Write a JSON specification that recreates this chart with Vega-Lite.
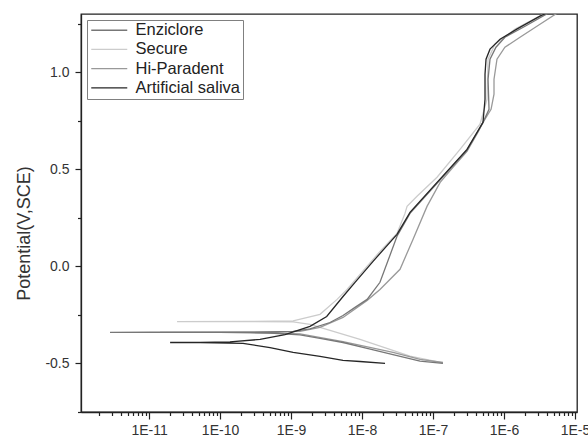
{
  "$schema": "https://vega.github.io/schema/vega-lite/v6.json",
  "width": 496,
  "height": 398,
  "autosize": "none",
  "padding": {"left": 81, "top": 14, "right": 11, "bottom": 25},
  "background": "white",
  "config": {
    "view": {"stroke": "#222", "strokeWidth": 1.3},
    "axis": {
      "grid": false,
      "domainColor": "#222",
      "domainWidth": 1.3,
      "tickColor": "#222",
      "tickWidth": 1.2,
      "labelFont": "Liberation Sans",
      "labelFontSize": 14,
      "labelColor": "#333",
      "titleFont": "Liberation Sans",
      "titleFontWeight": "normal",
      "titleColor": "#333"
    },
    "legend": {
      "labelFont": "Liberation Sans",
      "labelFontSize": 16.5,
      "labelColor": "#222"
    }
  },
  "data": {
    "values": [
      {"s": "Secure", "i": 1, "x": 1.38e-7, "y": -0.497},
      {"s": "Secure", "i": 2, "x": 4.74e-8, "y": -0.462},
      {"s": "Secure", "i": 3, "x": 9.37e-9, "y": -0.376},
      {"s": "Secure", "i": 4, "x": 3.54e-9, "y": -0.330},
      {"s": "Secure", "i": 5, "x": 1.85e-9, "y": -0.299},
      {"s": "Secure", "i": 6, "x": 1.07e-9, "y": -0.286},
      {"s": "Secure", "i": 7, "x": 2.65e-10, "y": -0.284},
      {"s": "Secure", "i": 8, "x": 2.48e-11, "y": -0.284},
      {"s": "Secure", "i": 9, "x": 2.65e-10, "y": -0.283},
      {"s": "Secure", "i": 10, "x": 1.07e-9, "y": -0.281},
      {"s": "Secure", "i": 11, "x": 2.56e-9, "y": -0.247},
      {"s": "Secure", "i": 12, "x": 4.45e-9, "y": -0.170},
      {"s": "Secure", "i": 13, "x": 6.15e-9, "y": -0.119},
      {"s": "Secure", "i": 14, "x": 9.37e-9, "y": -0.041},
      {"s": "Secure", "i": 15, "x": 1.79e-8, "y": 0.077},
      {"s": "Secure", "i": 16, "x": 3.11e-8, "y": 0.170},
      {"s": "Secure", "i": 17, "x": 4.03e-8, "y": 0.273},
      {"s": "Secure", "i": 18, "x": 4.31e-8, "y": 0.309},
      {"s": "Secure", "i": 19, "x": 5.95e-8, "y": 0.361},
      {"s": "Secure", "i": 20, "x": 1.14e-7, "y": 0.459},
      {"s": "Secure", "i": 21, "x": 2.4e-7, "y": 0.603},
      {"s": "Secure", "i": 22, "x": 4.59e-7, "y": 0.732},
      {"s": "Secure", "i": 23, "x": 5.77e-7, "y": 0.861},
      {"s": "Secure", "i": 24, "x": 5.96e-7, "y": 1.067},
      {"s": "Secure", "i": 25, "x": 7.47e-7, "y": 1.144},
      {"s": "Secure", "i": 26, "x": 1.43e-6, "y": 1.222},
      {"s": "Secure", "i": 27, "x": 3.78e-6, "y": 1.304},

      {"s": "Hi-Paradent", "i": 1, "x": 1.38e-7, "y": -0.495},
      {"s": "Hi-Paradent", "i": 2, "x": 6.56e-8, "y": -0.479},
      {"s": "Hi-Paradent", "i": 3, "x": 2.73e-8, "y": -0.443},
      {"s": "Hi-Paradent", "i": 4, "x": 5.4e-9, "y": -0.387},
      {"s": "Hi-Paradent", "i": 5, "x": 1.34e-9, "y": -0.348},
      {"s": "Hi-Paradent", "i": 6, "x": 2.65e-10, "y": -0.340},
      {"s": "Hi-Paradent", "i": 7, "x": 1.43e-11, "y": -0.340},
      {"s": "Hi-Paradent", "i": 8, "x": 2.65e-10, "y": -0.339},
      {"s": "Hi-Paradent", "i": 9, "x": 1.34e-9, "y": -0.335},
      {"s": "Hi-Paradent", "i": 10, "x": 2.56e-9, "y": -0.314},
      {"s": "Hi-Paradent", "i": 11, "x": 5.4e-9, "y": -0.263},
      {"s": "Hi-Paradent", "i": 12, "x": 1.18e-8, "y": -0.175},
      {"s": "Hi-Paradent", "i": 13, "x": 1.79e-8, "y": -0.119},
      {"s": "Hi-Paradent", "i": 14, "x": 3.43e-8, "y": -0.015},
      {"s": "Hi-Paradent", "i": 15, "x": 5.22e-8, "y": 0.139},
      {"s": "Hi-Paradent", "i": 16, "x": 8.23e-8, "y": 0.309},
      {"s": "Hi-Paradent", "i": 17, "x": 1.26e-7, "y": 0.433},
      {"s": "Hi-Paradent", "i": 18, "x": 1.91e-7, "y": 0.510},
      {"s": "Hi-Paradent", "i": 19, "x": 3.01e-7, "y": 0.593},
      {"s": "Hi-Paradent", "i": 20, "x": 4.3e-7, "y": 0.691},
      {"s": "Hi-Paradent", "i": 21, "x": 5.06e-7, "y": 0.742},
      {"s": "Hi-Paradent", "i": 22, "x": 6.57e-7, "y": 0.809},
      {"s": "Hi-Paradent", "i": 23, "x": 7.23e-7, "y": 0.887},
      {"s": "Hi-Paradent", "i": 24, "x": 7.23e-7, "y": 0.964},
      {"s": "Hi-Paradent", "i": 25, "x": 7.96e-7, "y": 1.067},
      {"s": "Hi-Paradent", "i": 26, "x": 1.03e-6, "y": 1.129},
      {"s": "Hi-Paradent", "i": 27, "x": 1.68e-6, "y": 1.180},
      {"s": "Hi-Paradent", "i": 28, "x": 3.21e-6, "y": 1.247},
      {"s": "Hi-Paradent", "i": 29, "x": 5.58e-6, "y": 1.304},

      {"s": "Enziclore", "i": 1, "x": 1.38e-7, "y": -0.500},
      {"s": "Enziclore", "i": 2, "x": 6.56e-8, "y": -0.488},
      {"s": "Enziclore", "i": 3, "x": 2.73e-8, "y": -0.454},
      {"s": "Enziclore", "i": 4, "x": 1.22e-8, "y": -0.423},
      {"s": "Enziclore", "i": 5, "x": 5.4e-9, "y": -0.392},
      {"s": "Enziclore", "i": 6, "x": 2.56e-9, "y": -0.371},
      {"s": "Enziclore", "i": 7, "x": 1.34e-9, "y": -0.353},
      {"s": "Enziclore", "i": 8, "x": 5.06e-10, "y": -0.343},
      {"s": "Enziclore", "i": 9, "x": 1e-10, "y": -0.340},
      {"s": "Enziclore", "i": 10, "x": 1.03e-11, "y": -0.340},
      {"s": "Enziclore", "i": 11, "x": 2.82e-12, "y": -0.340},
      {"s": "Enziclore", "i": 12, "x": 1.03e-11, "y": -0.339},
      {"s": "Enziclore", "i": 13, "x": 1e-10, "y": -0.339},
      {"s": "Enziclore", "i": 14, "x": 5.06e-10, "y": -0.338},
      {"s": "Enziclore", "i": 15, "x": 1.07e-9, "y": -0.335},
      {"s": "Enziclore", "i": 16, "x": 1.85e-9, "y": -0.322},
      {"s": "Enziclore", "i": 17, "x": 3.54e-9, "y": -0.289},
      {"s": "Enziclore", "i": 18, "x": 5.4e-9, "y": -0.253},
      {"s": "Enziclore", "i": 19, "x": 7.97e-9, "y": -0.211},
      {"s": "Enziclore", "i": 20, "x": 1.18e-8, "y": -0.170},
      {"s": "Enziclore", "i": 21, "x": 1.79e-8, "y": -0.082},
      {"s": "Enziclore", "i": 22, "x": 3.11e-8, "y": 0.155},
      {"s": "Enziclore", "i": 23, "x": 4.74e-8, "y": 0.273},
      {"s": "Enziclore", "i": 24, "x": 1.14e-7, "y": 0.428},
      {"s": "Enziclore", "i": 25, "x": 3.01e-7, "y": 0.598},
      {"s": "Enziclore", "i": 26, "x": 5.06e-7, "y": 0.742},
      {"s": "Enziclore", "i": 27, "x": 6.15e-7, "y": 0.809},
      {"s": "Enziclore", "i": 28, "x": 5.96e-7, "y": 0.964},
      {"s": "Enziclore", "i": 29, "x": 6.35e-7, "y": 1.067},
      {"s": "Enziclore", "i": 30, "x": 7.71e-7, "y": 1.129},
      {"s": "Enziclore", "i": 31, "x": 1.03e-6, "y": 1.180},
      {"s": "Enziclore", "i": 32, "x": 1.98e-6, "y": 1.237},
      {"s": "Enziclore", "i": 33, "x": 4.17e-6, "y": 1.304},

      {"s": "Artificial saliva", "i": 1, "x": 2.11e-8, "y": -0.500},
      {"s": "Artificial saliva", "i": 2, "x": 9.37e-9, "y": -0.490},
      {"s": "Artificial saliva", "i": 3, "x": 5.4e-9, "y": -0.484},
      {"s": "Artificial saliva", "i": 4, "x": 2.56e-9, "y": -0.464},
      {"s": "Artificial saliva", "i": 5, "x": 1.07e-9, "y": -0.443},
      {"s": "Artificial saliva", "i": 6, "x": 5.06e-10, "y": -0.418},
      {"s": "Artificial saliva", "i": 7, "x": 2.11e-10, "y": -0.397},
      {"s": "Artificial saliva", "i": 8, "x": 5.23e-11, "y": -0.392},
      {"s": "Artificial saliva", "i": 9, "x": 1.98e-11, "y": -0.392},
      {"s": "Artificial saliva", "i": 10, "x": 5.23e-11, "y": -0.391},
      {"s": "Artificial saliva", "i": 11, "x": 1.38e-10, "y": -0.389},
      {"s": "Artificial saliva", "i": 12, "x": 3.66e-10, "y": -0.376},
      {"s": "Artificial saliva", "i": 13, "x": 8.22e-10, "y": -0.351},
      {"s": "Artificial saliva", "i": 14, "x": 1.85e-9, "y": -0.309},
      {"s": "Artificial saliva", "i": 15, "x": 3.18e-9, "y": -0.258},
      {"s": "Artificial saliva", "i": 16, "x": 5.4e-9, "y": -0.155},
      {"s": "Artificial saliva", "i": 17, "x": 7.97e-9, "y": -0.082},
      {"s": "Artificial saliva", "i": 18, "x": 1.43e-8, "y": 0.026},
      {"s": "Artificial saliva", "i": 19, "x": 3.11e-8, "y": 0.165},
      {"s": "Artificial saliva", "i": 20, "x": 4.74e-8, "y": 0.278},
      {"s": "Artificial saliva", "i": 21, "x": 1.14e-7, "y": 0.433},
      {"s": "Artificial saliva", "i": 22, "x": 3.01e-7, "y": 0.603},
      {"s": "Artificial saliva", "i": 23, "x": 5.06e-7, "y": 0.742},
      {"s": "Artificial saliva", "i": 24, "x": 5.4e-7, "y": 0.861},
      {"s": "Artificial saliva", "i": 25, "x": 5.4e-7, "y": 0.990},
      {"s": "Artificial saliva", "i": 26, "x": 5.58e-7, "y": 1.067},
      {"s": "Artificial saliva", "i": 27, "x": 6.35e-7, "y": 1.119},
      {"s": "Artificial saliva", "i": 28, "x": 8.79e-7, "y": 1.170},
      {"s": "Artificial saliva", "i": 29, "x": 1.51e-6, "y": 1.222},
      {"s": "Artificial saliva", "i": 30, "x": 3.21e-6, "y": 1.289},
      {"s": "Artificial saliva", "i": 31, "x": 3.91e-6, "y": 1.304}
    ]
  },
  "mark": {"type": "line", "strokeWidth": 1.3, "clip": true},
  "encoding": {
    "x": {
      "field": "x",
      "type": "quantitative",
      "scale": {"type": "log", "domain": [1.1e-12, 1.067e-5], "nice": false},
      "axis": {
        "title": null,
        "values": [2e-12,3e-12,4e-12,5e-12,6e-12,7e-12,8e-12,9e-12,
                   1e-11,2e-11,3e-11,4e-11,5e-11,6e-11,7e-11,8e-11,9e-11,
                   1e-10,2e-10,3e-10,4e-10,5e-10,6e-10,7e-10,8e-10,9e-10,
                   1e-9,2e-9,3e-9,4e-9,5e-9,6e-9,7e-9,8e-9,9e-9,
                   1e-8,2e-8,3e-8,4e-8,5e-8,6e-8,7e-8,8e-8,9e-8,
                   1e-7,2e-7,3e-7,4e-7,5e-7,6e-7,7e-7,8e-7,9e-7,
                   1e-6,2e-6,3e-6,4e-6,5e-6,6e-6,7e-6,8e-6,9e-6,1e-5],
        "labelExpr": "abs(log(datum.value)/LN10 - round(log(datum.value)/LN10)) < 0.001 ? '1E' + round(log(datum.value)/LN10) : ''",
        "labelOverlap": false,
        "labelBound": false,
        "labelFlush": false,
        "labelPadding": 4,
        "tickSize": {"condition": {"test": "abs(log(datum.value)/LN10 - round(log(datum.value)/LN10)) < 0.001", "value": 7}, "value": 3.5}
      }
    },
    "y": {
      "field": "y",
      "type": "quantitative",
      "scale": {"domain": [-0.75, 1.3], "nice": false, "zero": false},
      "axis": {
        "title": "Potential(V,SCE)",
        "titleFontSize": 18,
        "titlePadding": 11,
        "titleY": 219,
        "values": [-0.75, -0.5, -0.25, 0, 0.25, 0.5, 0.75, 1.0, 1.25],
        "labelExpr": "abs(datum.value*2 - round(datum.value*2)) < 0.001 ? (datum.value < 0 ? '-' : '') + format(abs(datum.value), '.1f') : ''",
        "labelOverlap": false,
        "labelPadding": 6,
        "tickSize": {"condition": {"test": "abs(datum.value*2 - round(datum.value*2)) < 0.001", "value": 6}, "value": 3.5}
      }
    },
    "color": {
      "field": "s",
      "type": "nominal",
      "scale": {
        "domain": ["Enziclore", "Secure", "Hi-Paradent", "Artificial saliva"],
        "range": ["#777777", "#cccccc", "#999999", "#262626"]
      },
      "legend": {
        "title": null,
        "orient": "none",
        "legendX": 6,
        "legendY": 6,
        "strokeColor": "#808080",
        "fillColor": "white",
        "padding": 2,
        "rowPadding": 2.2,
        "symbolType": "M-1,0H5",
        "symbolSize": 144,
        "symbolStrokeWidth": 1.3,
        "labelOffset": 30
      }
    },
    "order": {"field": "i", "type": "quantitative"}
  }
}
